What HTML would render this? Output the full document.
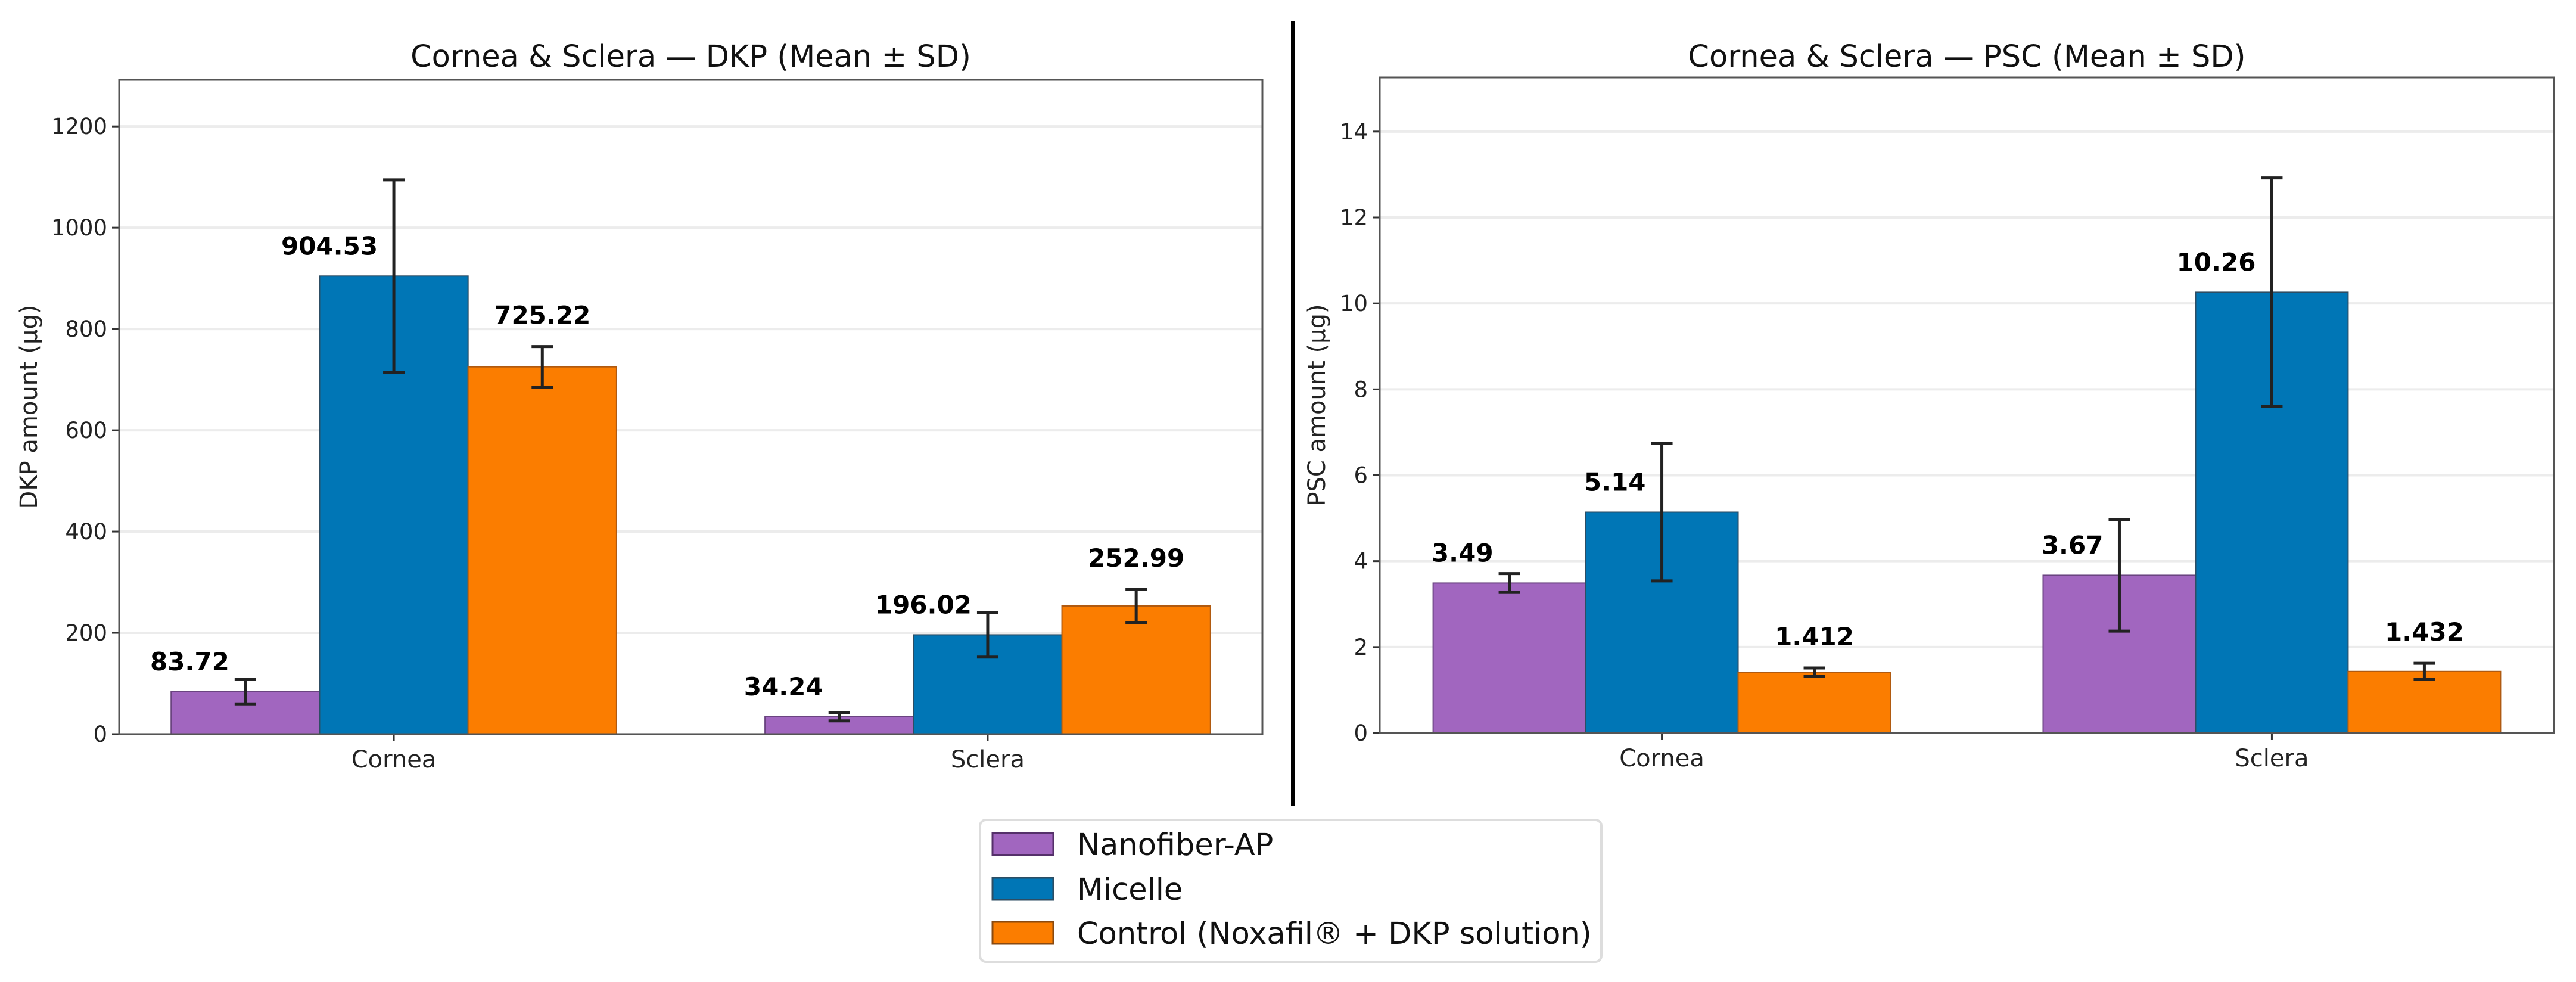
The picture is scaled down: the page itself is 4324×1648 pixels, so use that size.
<!DOCTYPE html>
<html><head><meta charset="utf-8"><style>
html,body{margin:0;padding:0;background:#fff;}
svg{display:block;font-family:"DejaVu Sans","Liberation Sans",sans-serif;}
</style></head><body>
<svg id="fig" width="4324" height="1648" viewBox="0 0 4324 1648" xmlns="http://www.w3.org/2000/svg">
<rect width="4324" height="1648" fill="#fff"/>
<line x1="2170" y1="36" x2="2170" y2="1353" stroke="#000" stroke-width="6"/>
<g>
<rect x="1645" y="1376" width="1043" height="238" rx="10" fill="#fff" stroke="#ddd" stroke-width="4"/>
<rect x="1666" y="1398" width="102" height="37" fill="#a166bf" stroke="#55306a" stroke-width="3"/>
<text x="1808" y="1435" font-size="51" fill="#111">Nanofiber-AP</text>
<rect x="1666" y="1473" width="102" height="37" fill="#0076b6" stroke="#2d4d63" stroke-width="3"/>
<text x="1808" y="1510" font-size="51" fill="#111">Micelle</text>
<rect x="1666" y="1547" width="102" height="37" fill="#fb7d00" stroke="#8a4a10" stroke-width="3"/>
<text x="1808" y="1584" font-size="51" fill="#111">Control (Noxafil® + DKP solution)</text>
</g>
</svg>
<script>
const categories = ["Cornea", "Sclera"];
const seriesNames = ["Nanofiber-AP", "Micelle", "Control (Noxafil® + DKP solution)"];
const dkpMeans = [[83.72, 34.24], [904.53, 196.02], [725.22, 252.99]];
const dkpErrs = [[24, 8], [190, 44], [40, 33]];
const dkpLabels = [["83.72", "34.24"], ["904.53", "196.02"], ["725.22", "252.99"]];
const dkpTicks = [0, 200, 400, 600, 800, 1000, 1200];
const pscMeans = [[3.49, 3.67], [5.14, 10.26], [1.412, 1.432]];
const pscErrs = [[0.22, 1.3], [1.6, 2.66], [0.1, 0.19]];
const pscLabels = [["3.49", "3.67"], ["5.14", "10.26"], ["1.412", "1.432"]];
const pscTicks = [0, 2, 4, 6, 8, 10, 12, 14];

const colors = ["#a166bf", "#0076b6", "#fb7d00"];
const edges = ["#6a4480", "#2d4d63", "#b05a10"];
const NS = "http://www.w3.org/2000/svg";
const svg = document.getElementById("fig");
function mk(tag, attrs, parent) {
  const e = document.createElementNS(NS, tag);
  for (const k in attrs) e.setAttribute(k, attrs[k]);
  (parent || svg).appendChild(e);
  return e;
}

function drawPanel(p) {
  const g = mk("g", {});
  
  
  const xScale = v => p.x0 + (v - (-0.4625)) / (1.925) * (p.x1 - p.x0);
  const yScale = v => p.y1 - v / p.ymax * (p.y1 - p.y0);
  p.ticks.forEach(t => {
    const y = yScale(t);
    const gl = mk("line", {x1: p.x0, x2: p.x1, y1: y, y2: y, stroke: "#ececec", "stroke-width": 4}, g);
    
    
    const tk = mk("line", {x1: p.x0 - 12, x2: p.x0, y1: y, y2: y, stroke: "#333", "stroke-width": 3}, g);
    
    
    const tl = mk("text", {x: p.x0 - 20, y: y + 13, "font-size": 37, "text-anchor": "end", fill: "#222"}, g);
    tl.textContent = String(t);
    
    
  });
  const bw = 0.25;
  for (let s = 0; s < 3; s++) {
    for (let c = 0; c < categories.length; c++) {
      const cx = c + (s - 1) * bw;
      const xl = xScale(cx - bw / 2), xr = xScale(cx + bw / 2);
      const v = p.means[s][c], e = p.errs[s][c];
      const yt = yScale(v);
      const r = mk("rect", {x: xl, y: yt, width: xr - xl, height: p.y1 - yt, fill: colors[s], stroke: edges[s], "stroke-width": 2}, g);
      
      
      const xc = xScale(cx);
      const eg = mk("g", {stroke: "#222", "stroke-width": 5}, g);
      
      
      mk("line", {x1: xc, x2: xc, y1: yScale(v - e), y2: yScale(v + e)}, eg);
      mk("line", {x1: xc - 18, x2: xc + 18, y1: yScale(v - e), y2: yScale(v - e)}, eg);
      mk("line", {x1: xc - 18, x2: xc + 18, y1: yScale(v + e), y2: yScale(v + e)}, eg);
      let lt;
      if (s === 2) {
        lt = mk("text", {x: xc, y: yScale(v + e) - 38, "text-anchor": "middle"}, g);
      } else {
        lt = mk("text", {x: xc - 27, y: yt - 36, "text-anchor": "end"}, g);
      }
      lt.setAttribute("font-size", 42);
      lt.setAttribute("font-weight", "bold");
      lt.setAttribute("fill", "#000");
      lt.textContent = p.labels[s][c];
      
      
    }
  }
  categories.forEach((cat, c) => {
    const x = xScale(c);
    const t = mk("line", {x1: x, x2: x, y1: p.y1, y2: p.y1 + 12, stroke: "#333", "stroke-width": 3}, g);
    
    
    const l = mk("text", {x: x, y: p.y1 + 56, "font-size": 40, "text-anchor": "middle", fill: "#222"}, g);
    l.textContent = cat;
    
    
  });
  const fr = mk("rect", {x: p.x0, y: p.y0, width: p.x1 - p.x0, height: p.y1 - p.y0, fill: "none", stroke: "#555", "stroke-width": 3}, g);
  
  
  const ti = mk("text", {x: (p.x0 + p.x1) / 2, y: 112, "font-size": 51, "text-anchor": "middle", fill: "#111"}, g);
  ti.textContent = p.title;
  
  
  const yl = mk("text", {x: 0, y: 0, "font-size": 40, "text-anchor": "middle", fill: "#222", transform: "translate(" + p.ylx + "," + ((p.y0 + p.y1) / 2) + ") rotate(-90)"}, g);
  yl.textContent = p.ylabel;
  
  
}

drawPanel({key: "dkp", x0: 200, x1: 2119, y0: 134, y1: 1232, ymax: 1292, ticks: dkpTicks,
  means: dkpMeans, errs: dkpErrs, labels: dkpLabels, title: "Cornea & Sclera — DKP (Mean ± SD)", ylabel: "DKP amount (µg)", ylx: 62});
drawPanel({key: "psc", x0: 2316, x1: 4287, y0: 130, y1: 1230, ymax: 15.26, ticks: pscTicks,
  means: pscMeans, errs: pscErrs, labels: pscLabels, title: "Cornea & Sclera — PSC (Mean ± SD)", ylabel: "PSC amount (µg)", ylx: 2224});
</script>
</body></html>
